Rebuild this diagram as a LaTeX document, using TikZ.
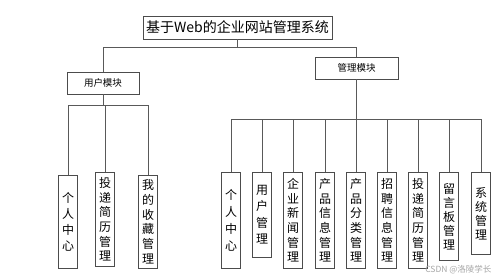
\documentclass[tikz,border=0pt]{standalone}
\usepackage{fontspec}
\setmainfont{Noto Sans CJK SC}
\begin{document}
\begin{tikzpicture}[x=1pt,y=-1pt,
  box/.style={draw=black!70, line width=0.7pt, fill=white, inner sep=0pt},
  modbox/.style={box, minimum height=22pt, font=\fontsize{9.5}{11}\selectfont},
  vbox/.style={box, minimum width=19pt, anchor=north, align=center},
  link/.style={draw=black!65, line width=0.7pt},
  wmark/.style={text=black!35, font=\fontsize{8.5}{10}\selectfont}]
\useasboundingbox (0,0) rectangle (499,277);
% title and modules
\node[box, minimum width=189pt, minimum height=23pt, font=\fontsize{14}{16}\selectfont] (title) at (237.5,27.5) {基于Web的企业网站管理系统};
\node[modbox, minimum width=72pt] (user) at (103,83) {用户模块};
\node[modbox, minimum width=83pt] (admin) at (356.5,68) {管理模块};
% user module children
\node[vbox, minimum height=93pt, font=\fontsize{12}{16}\selectfont] (l1) at (68,175) {个\\人\\中\\心};
\node[vbox, minimum height=94pt, font=\fontsize{12}{14.7}\selectfont] (l2) at (105,172) {投\\递\\简\\历\\管\\理};
\node[vbox, minimum height=93pt, font=\fontsize{12}{14.7}\selectfont] (l3) at (148,175) {我\\的\\收\\藏\\管\\理};
% admin module children
\node[vbox, minimum height=96pt, font=\fontsize{12}{16.7}\selectfont] (r1) at (231,172) {个\\人\\中\\心};
\node[vbox, minimum height=85pt, font=\fontsize{12}{16.5}\selectfont] (r2) at (262,172) {用\\户\\管\\理};
\node[vbox, minimum height=96pt, font=\fontsize{12}{14.7}\selectfont] (r3) at (293,172) {企\\业\\新\\闻\\管\\理};
\node[vbox, minimum height=96pt, font=\fontsize{12}{14.7}\selectfont] (r4) at (325,172) {产\\品\\信\\息\\管\\理};
\node[vbox, minimum height=96pt, font=\fontsize{12}{14.7}\selectfont] (r5) at (356,172) {产\\品\\分\\类\\管\\理};
\node[vbox, minimum height=96pt, font=\fontsize{12}{14.7}\selectfont] (r6) at (387,172) {招\\聘\\信\\息\\管\\理};
\node[vbox, minimum height=96pt, font=\fontsize{12}{14.7}\selectfont] (r7) at (418,172) {投\\递\\简\\历\\管\\理};
\node[vbox, minimum height=88pt, font=\fontsize{12}{14}\selectfont] (r8) at (449,172) {留\\言\\板\\管\\理};
\node[vbox, minimum height=82pt, font=\fontsize{12}{14}\selectfont] (r9) at (481,172) {系\\统\\管\\理};
% junctions
\coordinate (jt) at (237.5,47);
\coordinate (jl) at (103,105);
\coordinate (jr) at (356.5,119);
% connectors
\draw[link] (title.south) -- (jt);
\draw[link] (user.north) |- (admin.north |- jt) -- (admin.north);
\draw[link] (user.south) -- (jl);
\draw[link] (l1.north) |- (l3.north |- jl) -- (l3.north);
\draw[link] (l2.north) -- (l2.north |- jl);
\draw[link] (admin.south) -- (jr);
\draw[link] (r1.north |- jr) -- (r9.north |- jr);
\foreach \n in {r1,r2,r3,r4,r5,r6,r7,r8,r9}
  \draw[link] (\n.north) -- (\n.north |- jr);
% watermark
\node[wmark, anchor=east] (wm) at (495,270) {CSDN @洛陵学长};
\end{tikzpicture}
\end{document}
